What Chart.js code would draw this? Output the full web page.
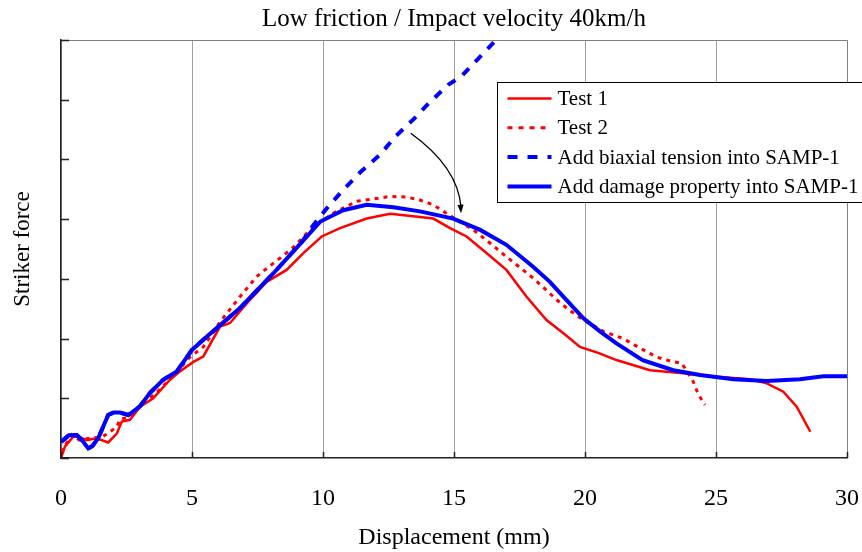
<!DOCTYPE html>
<html>
<head>
<meta charset="utf-8">
<script src="https://cdn.jsdelivr.net/npm/chart.js@4.4.1/dist/chart.umd.min.js"></script>
<style>
  html, body { margin: 0; padding: 0; background: #fff; }
  #wrap { width: 862px; height: 552px; }
</style>
</head>
<body>
<div id="wrap"><canvas id="chart"></canvas></div>
<script>
/* ===== Striker force vs displacement ===== */

const SERIF = '"Liberation Serif", "Times New Roman", serif';

const xTicks = [0, 5, 10, 15, 20, 25, 30];
const yTicks = [0, 1, 2, 3, 4, 5, 6, 7];

const seriesLabels = [
    'Test 1',
    'Test 2',
    'Add biaxial tension into SAMP-1',
    'Add damage property into SAMP-1'
];

// Test 1 (red solid)
const test1X = [0, 0.15, 0.47, 0.7, 0.98, 1.36, 1.8, 2.13, 2.32, 2.63, 3.02, 3.52, 4.16, 4.54, 5.05, 5.43,
    6.07, 6.45, 7.09, 7.85, 8.61, 9.25, 9.95, 10.65, 11.67, 12.56, 13.45, 14.21, 14.85, 15.48, 16.25, 17.0,
    17.77, 18.53, 19.2, 19.81, 20.5, 21.2, 22.48, 23.75, 25.03, 26.3, 26.94, 27.57, 28.08, 28.6];
const test1Y = [0, 0.19, 0.36, 0.35, 0.3, 0.33, 0.26, 0.41, 0.61, 0.64, 0.86, 1.0, 1.31, 1.45, 1.61, 1.7,
    2.2, 2.26, 2.59, 2.95, 3.15, 3.43, 3.71, 3.85, 4.01, 4.09, 4.05, 4.01, 3.85, 3.71, 3.43, 3.15,
    2.7, 2.31, 2.08, 1.86, 1.76, 1.64, 1.47, 1.42, 1.36, 1.32, 1.25, 1.11, 0.86, 0.44];

// Test 2 (red dotted)
const test2X = [0, 0.41, 0.7, 1.1, 1.6, 2.13, 2.25, 2.6, 3.02, 3.7, 4.3, 4.9, 5.43, 6.07, 6.83, 7.47,
    8.1, 8.8, 9.38, 9.9, 10.39, 11.29, 11.8, 12.56, 13.2, 13.7, 14.21, 14.6, 15.1, 15.74, 16.37, 17.0,
    18.03, 18.92, 19.3, 19.94, 20.7, 21.46, 22.1, 22.74, 23.37, 23.69, 24.13, 24.33, 24.58];
const test2Y = [0.1, 0.39, 0.3, 0.33, 0.36, 0.52, 0.65, 0.68, 0.86, 1.12, 1.38, 1.68, 1.86, 2.28, 2.7, 3.04,
    3.26, 3.5, 3.76, 3.95, 4.1, 4.3, 4.33, 4.38, 4.37, 4.32, 4.24, 4.13, 3.99, 3.82, 3.6, 3.37,
    3.01, 2.65, 2.51, 2.31, 2.12, 2.0, 1.84, 1.69, 1.61, 1.59, 1.28, 1.06, 0.89];

// Add biaxial tension (blue dashed)
const biaxialX = [0, 0.3, 0.6, 0.8, 1.04, 1.2, 1.42, 1.8, 2.0, 2.25, 2.57, 3.0, 3.4, 3.9, 4.42, 5.0,
    5.56, 6.83, 8.1, 9.2, 9.63, 10.2, 10.77, 11.41, 12.18, 12.75, 13.45, 14.08, 14.78, 15.3, 16.22, 16.6];
const biaxialY = [0.27, 0.38, 0.385, 0.3, 0.16, 0.2, 0.33, 0.72, 0.76, 0.76, 0.72, 0.86, 1.09, 1.31, 1.45, 1.81,
    2.03, 2.51, 3.09, 3.62, 3.9, 4.21, 4.49, 4.78, 5.08, 5.38, 5.67, 5.96, 6.25, 6.4, 6.82, 7.0];

// Add damage property (blue solid)
const damageX = [0, 0.3, 0.6, 0.8, 1.04, 1.2, 1.42, 1.8, 2.0, 2.25, 2.57, 3.0, 3.4, 3.9, 4.42, 5.0,
    5.56, 6.83, 8.1, 9.2, 9.9, 10.77, 11.67, 12.69, 13.7, 14.97, 16.0, 17.0, 18.03, 18.66, 19.05, 19.94,
    20.57, 21.2, 22.2, 23.37, 24.39, 25.66, 26.94, 28.2, 29.1, 30];
const damageY = [0.27, 0.38, 0.385, 0.3, 0.16, 0.2, 0.33, 0.72, 0.76, 0.76, 0.72, 0.86, 1.09, 1.31, 1.45, 1.81,
    2.03, 2.51, 3.09, 3.62, 3.96, 4.15, 4.24, 4.2, 4.13, 4.01, 3.82, 3.57, 3.2, 2.95, 2.76, 2.34,
    2.12, 1.92, 1.64, 1.47, 1.39, 1.32, 1.29, 1.32, 1.37, 1.37];

// curved arrow pointing from the biaxial curve down to the damage curve (data units)
const arrowFrom = { x: 13.35, y: 5.44 };
const arrowCtrl = { x: 15.15, y: 4.87 };
const arrowTo = { x: 15.27, y: 4.1 };

const toPoints = (xs, ys) => xs.map((x, i) => ({ x: x, y: ys[i] }));

// frame, inward ticks, arrow and the boxed legend
const decorPlugin = {
    id: 'decor',
    afterDatasetsDraw(chart) {
        const ctx = chart.ctx;
        const { left, right, top, bottom } = chart.chartArea;
        const xs = chart.scales.x, ys = chart.scales.y;

        ctx.save();
        // top + right border
        ctx.strokeStyle = '#808080';
        ctx.lineWidth = 1;
        ctx.beginPath();
        ctx.moveTo(left, top + 0.5);
        ctx.lineTo(right + 0.5, top + 0.5);
        ctx.lineTo(right + 0.5, bottom);
        ctx.stroke();

        // inward ticks
        ctx.strokeStyle = '#222';
        ctx.lineWidth = 1.5;
        ctx.beginPath();
        yTicks.forEach(v => {
            const py = Math.round(ys.getPixelForValue(v)) + 0.5;
            ctx.moveTo(left, py);
            ctx.lineTo(left + 8, py);
        });
        xTicks.forEach(v => {
            const px = Math.round(xs.getPixelForValue(v)) + 0.5;
            ctx.moveTo(px, bottom);
            ctx.lineTo(px, bottom - 6);
        });
        ctx.stroke();

        // arrow
        const p0 = { x: xs.getPixelForValue(arrowFrom.x), y: ys.getPixelForValue(arrowFrom.y) };
        const pc = { x: xs.getPixelForValue(arrowCtrl.x), y: ys.getPixelForValue(arrowCtrl.y) };
        const p1 = { x: xs.getPixelForValue(arrowTo.x), y: ys.getPixelForValue(arrowTo.y) };
        ctx.strokeStyle = '#000';
        ctx.fillStyle = '#000';
        ctx.lineWidth = 1.3;
        ctx.beginPath();
        ctx.moveTo(p0.x, p0.y);
        ctx.quadraticCurveTo(pc.x, pc.y, p1.x, p1.y - 6);
        ctx.stroke();
        const ang = Math.atan2(p1.y - pc.y, p1.x - pc.x);
        ctx.beginPath();
        ctx.moveTo(p1.x, p1.y);
        ctx.lineTo(p1.x - 9 * Math.cos(ang - 0.35), p1.y - 9 * Math.sin(ang - 0.35));
        ctx.lineTo(p1.x - 9 * Math.cos(ang + 0.35), p1.y - 9 * Math.sin(ang + 0.35));
        ctx.closePath();
        ctx.fill();

        // legend box
        const boxX = 497.5, boxY = 82.5, rowH = 29.3;
        ctx.fillStyle = '#fff';
        ctx.fillRect(boxX, boxY, 400, 120);
        ctx.strokeStyle = '#000';
        ctx.lineWidth = 1;
        ctx.strokeRect(boxX, boxY, 400, 120);

        ctx.font = '21px ' + SERIF;
        ctx.textBaseline = 'middle';
        chart.data.datasets.forEach((ds, i) => {
            const cy = boxY + 16 + i * rowH;
            ctx.strokeStyle = ds.borderColor;
            ctx.lineWidth = ds.borderWidth;
            ctx.setLineDash(ds.legendDash || []);
            ctx.beginPath();
            ctx.moveTo(boxX + 10, cy);
            ctx.lineTo(boxX + 54, cy);
            ctx.stroke();
            ctx.setLineDash([]);
            ctx.fillStyle = '#000';
            ctx.fillText(ds.label, boxX + 60, cy + 1);
        });
        ctx.restore();
    }
};

new Chart(document.getElementById('chart'), {
    type: 'line',
    data: {
        datasets: [
            {
                label: seriesLabels[0],
                data: toPoints(test1X, test1Y),
                borderColor: '#ff0000',
                borderWidth: 2.5,
                order: 2
            },
            {
                label: seriesLabels[1],
                data: toPoints(test2X, test2Y),
                borderColor: '#ff0000',
                borderWidth: 3,
                borderDash: [4, 5],
                legendDash: [5, 6],
                order: 3
            },
            {
                label: seriesLabels[2],
                data: toPoints(biaxialX, biaxialY),
                borderColor: '#0000ff',
                borderWidth: 4,
                borderDash: [9, 9],
                legendDash: [10, 10],
                order: 1
            },
            {
                label: seriesLabels[3],
                data: toPoints(damageX, damageY),
                borderColor: '#0000ff',
                borderWidth: 4,
                order: 0
            }
        ]
    },
    options: {
        responsive: true,
        maintainAspectRatio: false,
        animation: false,
        elements: {
            point: { radius: 0 },
            line: { tension: 0, fill: false, borderCapStyle: 'butt' }
        },
        layout: { padding: { left: 0, right: 15, top: 0, bottom: 0 } },
        plugins: {
            legend: { display: false },
            tooltip: { enabled: false },
            title: {
                display: true,
                fullSize: false,
                text: 'Low friction / Impact velocity 40km/h',
                color: '#000',
                font: { family: SERIF, size: 25, weight: 'normal' },
                padding: { top: 4, bottom: 6 }
            }
        },
        scales: {
            x: {
                type: 'linear',
                min: 0,
                max: 30,
                afterFit: (s) => { s.height = 94; s.paddingLeft = 0; s.paddingRight = 0; },
                ticks: {
                    stepSize: 5,
                    color: '#000',
                    padding: 26,
                    font: { family: SERIF, size: 24 }
                },
                grid: { color: '#a0a0a0', lineWidth: 1, drawTicks: false },
                border: { color: '#222', width: 1.5 },
                title: {
                    display: true,
                    text: 'Displacement (mm)',
                    color: '#000',
                    font: { family: SERIF, size: 24 },
                    padding: { top: 0, bottom: 0 }
                }
            },
            y: {
                min: 0,
                max: 7,
                afterFit: (s) => { s.width = 61; },
                ticks: { display: false, stepSize: 1 },
                grid: { display: false },
                border: { color: '#222', width: 1.5 },
                title: {
                    display: true,
                    text: 'Striker force',
                    color: '#000',
                    font: { family: SERIF, size: 23 },
                    padding: { top: 9, bottom: 0 }
                }
            }
        }
    },
    plugins: [decorPlugin]
});
</script>
</body>
</html>
